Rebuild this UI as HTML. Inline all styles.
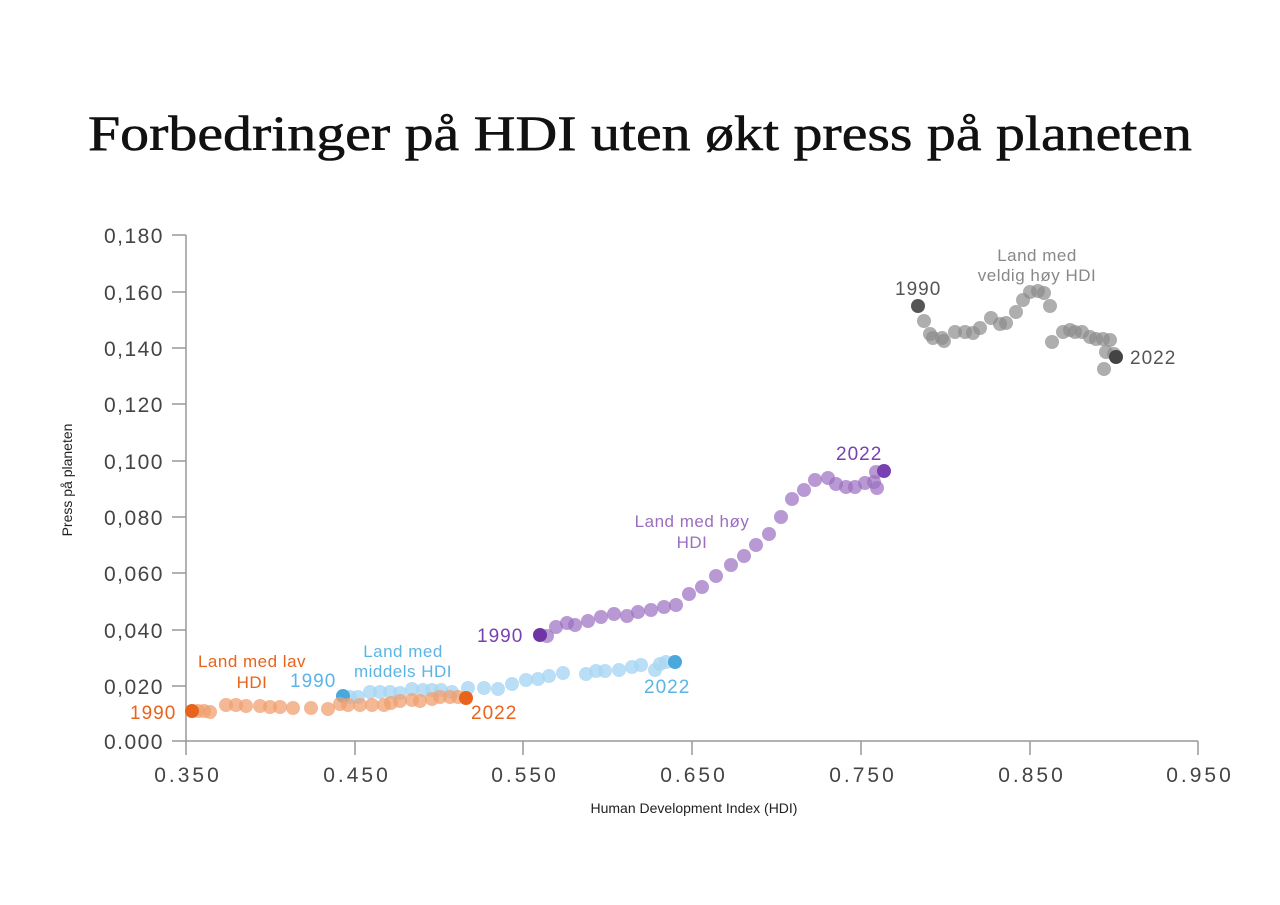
<!DOCTYPE html>
<html><head><meta charset="utf-8"><style>body{margin:0;background:#fff}svg{display:block}</style></head><body>
<svg width="1280" height="905" xmlns="http://www.w3.org/2000/svg" font-family="Liberation Sans, sans-serif">
<text x="88" y="150" font-family="Liberation Serif, serif" font-size="50" fill="#111" stroke="#111" stroke-width="0.6" textLength="1104" lengthAdjust="spacingAndGlyphs">Forbedringer på HDI uten økt press på planeten</text>
<g stroke="#999" stroke-width="1.5" fill="none">
<path d="M186,235 V741 H1198"/>
<path d="M172,235H186M172,292H186M172,348H186M172,404H186M172,461H186M172,517H186M172,573H186M172,630H186M172,686H186M172,741H186"/>
<path d="M186,741V755M355,741V755M523,741V755M692,741V755M861,741V755M1030,741V755M1198,741V755"/>
</g>
<g font-size="21" fill="#444" text-anchor="end" letter-spacing="1.5">
<text x="164" y="243">0,180</text>
<text x="164" y="300">0,160</text>
<text x="164" y="356">0,140</text>
<text x="164" y="412">0,120</text>
<text x="164" y="469">0,100</text>
<text x="164" y="525">0,080</text>
<text x="164" y="581">0,060</text>
<text x="164" y="638">0,040</text>
<text x="164" y="694">0,020</text>
<text x="164" y="749">0.000</text>
</g>
<g font-size="21" fill="#444" text-anchor="middle" letter-spacing="3">
<text x="188" y="782">0.350</text><text x="357" y="782">0.450</text><text x="525" y="782">0.550</text>
<text x="694" y="782">0.650</text><text x="863" y="782">0.750</text><text x="1032" y="782">0.850</text><text x="1200" y="782">0.950</text>
</g>
<text x="694" y="813" font-size="14" fill="#222" text-anchor="middle">Human Development Index (HDI)</text>
<text transform="translate(72,480) rotate(-90)" font-size="14" fill="#222" text-anchor="middle">Press på planeten</text>

<g fill="#8c8c8c" fill-opacity="0.7">
<circle cx="924" cy="321" r="7"/><circle cx="930" cy="334" r="7"/><circle cx="933" cy="338" r="7"/><circle cx="942" cy="338" r="7"/><circle cx="944" cy="341" r="7"/><circle cx="955" cy="332" r="7"/><circle cx="965" cy="332" r="7"/><circle cx="973" cy="333" r="7"/><circle cx="980" cy="328" r="7"/><circle cx="991" cy="318" r="7"/><circle cx="1000" cy="324" r="7"/><circle cx="1006" cy="323" r="7"/><circle cx="1016" cy="312" r="7"/><circle cx="1023" cy="300" r="7"/><circle cx="1030" cy="292" r="7"/><circle cx="1038" cy="291" r="7"/><circle cx="1044" cy="293" r="7"/><circle cx="1050" cy="306" r="7"/><circle cx="1052" cy="342" r="7"/><circle cx="1063" cy="332" r="7"/><circle cx="1070" cy="330" r="7"/><circle cx="1075" cy="332" r="7"/><circle cx="1082" cy="332" r="7"/><circle cx="1090" cy="337" r="7"/><circle cx="1096" cy="339" r="7"/><circle cx="1103" cy="339" r="7"/><circle cx="1110" cy="340" r="7"/><circle cx="1106" cy="352" r="7"/><circle cx="1114" cy="354" r="7"/><circle cx="1104" cy="369" r="7"/>
</g>
<circle cx="918" cy="306" r="7" fill="#555"/><circle cx="1116" cy="357" r="7" fill="#444"/>

<g fill="#9b6ec0" fill-opacity="0.7">
<circle cx="547" cy="636" r="7"/><circle cx="556" cy="627" r="7"/><circle cx="567" cy="623" r="7"/><circle cx="575" cy="625" r="7"/><circle cx="588" cy="621" r="7"/><circle cx="601" cy="617" r="7"/><circle cx="614" cy="614" r="7"/><circle cx="627" cy="616" r="7"/><circle cx="638" cy="612" r="7"/><circle cx="651" cy="610" r="7"/><circle cx="664" cy="607" r="7"/><circle cx="676" cy="605" r="7"/><circle cx="689" cy="594" r="7"/><circle cx="702" cy="587" r="7"/><circle cx="716" cy="576" r="7"/><circle cx="731" cy="565" r="7"/><circle cx="744" cy="556" r="7"/><circle cx="756" cy="545" r="7"/><circle cx="769" cy="534" r="7"/><circle cx="781" cy="517" r="7"/><circle cx="792" cy="499" r="7"/><circle cx="804" cy="490" r="7"/><circle cx="815" cy="480" r="7"/><circle cx="828" cy="478" r="7"/><circle cx="836" cy="484" r="7"/><circle cx="846" cy="487" r="7"/><circle cx="855" cy="487" r="7"/><circle cx="865" cy="483" r="7"/><circle cx="874" cy="482" r="7"/><circle cx="876" cy="472" r="7"/><circle cx="877" cy="488" r="7"/>
</g>
<circle cx="540" cy="635" r="7" fill="#6f35a5"/><circle cx="884" cy="471" r="7" fill="#7a3fb0"/>

<g fill="#a7d6f2" fill-opacity="0.8">
<circle cx="350" cy="697" r="7"/><circle cx="358" cy="697" r="7"/><circle cx="370" cy="692" r="7"/><circle cx="380" cy="692" r="7"/><circle cx="390" cy="692" r="7"/><circle cx="400" cy="693" r="7"/><circle cx="412" cy="689" r="7"/><circle cx="423" cy="690" r="7"/><circle cx="432" cy="690" r="7"/><circle cx="441" cy="690" r="7"/><circle cx="452" cy="692" r="7"/><circle cx="468" cy="688" r="7"/><circle cx="484" cy="688" r="7"/><circle cx="498" cy="689" r="7"/><circle cx="512" cy="684" r="7"/><circle cx="526" cy="680" r="7"/><circle cx="538" cy="679" r="7"/><circle cx="549" cy="676" r="7"/><circle cx="563" cy="673" r="7"/><circle cx="586" cy="674" r="7"/><circle cx="596" cy="671" r="7"/><circle cx="605" cy="671" r="7"/><circle cx="619" cy="670" r="7"/><circle cx="632" cy="667" r="7"/><circle cx="641" cy="665" r="7"/><circle cx="660" cy="664" r="7"/><circle cx="655" cy="670" r="7"/><circle cx="666" cy="662" r="7"/>
</g>
<circle cx="343" cy="696" r="7" fill="#4aa8dc"/><circle cx="675" cy="662" r="7" fill="#4aa8dc"/>

<g fill="#f0a070" fill-opacity="0.75">
<circle cx="198" cy="711" r="7"/><circle cx="204" cy="711" r="7"/><circle cx="210" cy="712" r="7"/><circle cx="226" cy="705" r="7"/><circle cx="236" cy="705" r="7"/><circle cx="246" cy="706" r="7"/><circle cx="260" cy="706" r="7"/><circle cx="270" cy="707" r="7"/><circle cx="280" cy="707" r="7"/><circle cx="293" cy="708" r="7"/><circle cx="311" cy="708" r="7"/><circle cx="328" cy="709" r="7"/><circle cx="340" cy="704" r="7"/><circle cx="348" cy="705" r="7"/><circle cx="360" cy="705" r="7"/><circle cx="372" cy="705" r="7"/><circle cx="384" cy="705" r="7"/><circle cx="391" cy="703" r="7"/><circle cx="400" cy="701" r="7"/><circle cx="412" cy="700" r="7"/><circle cx="420" cy="701" r="7"/><circle cx="432" cy="699" r="7"/><circle cx="440" cy="697" r="7"/><circle cx="450" cy="697" r="7"/><circle cx="458" cy="697" r="7"/>
</g>
<circle cx="192" cy="711" r="7" fill="#e8631c"/><circle cx="466" cy="698" r="7" fill="#e8631c"/>

<g font-size="17" text-anchor="middle" letter-spacing="0.5">
<text x="1037" y="261" fill="#888">Land med</text><text x="1037" y="281" fill="#888">veldig høy HDI</text>
<text x="692" y="527" fill="#9b6ec0">Land med høy</text><text x="692" y="548" fill="#9b6ec0">HDI</text>
<text x="403" y="657" fill="#5ab4e6">Land med</text><text x="403" y="677" fill="#5ab4e6">middels HDI</text>
<text x="252" y="667" fill="#e8631c">Land med lav</text><text x="252" y="688" fill="#e8631c">HDI</text>
</g>
<g font-size="19" letter-spacing="1">
<text x="895" y="295" fill="#555">1990</text><text x="1130" y="364" fill="#555">2022</text>
<text x="836" y="460" fill="#7a3fb0">2022</text><text x="477" y="642" fill="#7a3fb0">1990</text>
<text x="290" y="687" fill="#5ab4e6">1990</text><text x="644" y="693" fill="#5ab4e6">2022</text>
<text x="130" y="719" fill="#e8631c">1990</text><text x="471" y="719" fill="#e8631c">2022</text>
</g>
</svg>
</body></html>
